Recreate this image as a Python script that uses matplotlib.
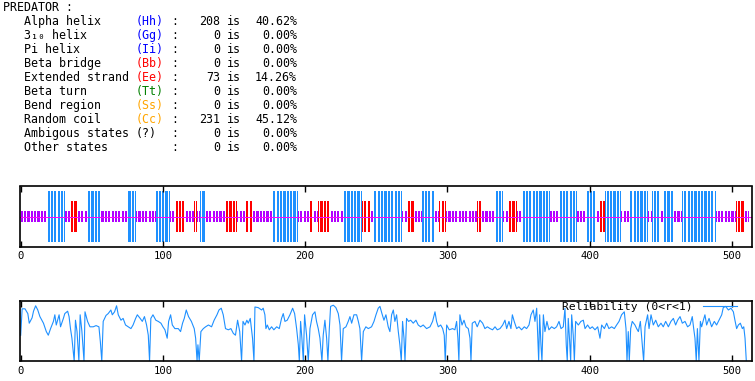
import numpy as np
import matplotlib
matplotlib.use('Agg')
from matplotlib import pyplot as plt

# summary table
ss_names = ['Alpha helix', '3\u2081\u2080 helix', 'Pi helix', 'Beta bridge', 'Extended strand',
            'Beta turn', 'Bend region', 'Random coil', 'Ambigous states', 'Other states']
ss_codes = ['(Hh)', '(Gg)', '(Ii)', '(Bb)', '(Ee)', '(Tt)', '(Ss)', '(Cc)', '(?)', '']
code_colors = ['#0000ff', '#0000ff', '#0000ff', '#ff0000', '#ff0000',
               '#008000', '#ffa500', '#ffa500', 'black', 'black']
ss_counts = [208, 0, 0, 0, 73, 0, 0, 231, 0, 0]
ss_percent = [40.62, 0.00, 0.00, 0.00, 14.26, 0.00, 0.00, 45.12, 0.00, 0.00]

# predicted structure, as runs along the sequence (H helix, E strand, C coil)
seg_states = list("CHCECHCHCH" "CECECHCECE" "CHCECECHEC" "HCECHCECEC"
                  "HCECHCHCHC" "EHCHCHCHCH" "CEC")
seg_lengths = [19, 12, 4, 5, 7, 9, 19, 6, 14, 10,
               3, 7, 7, 2, 2, 4, 14, 8, 6, 5,
               14, 18, 8, 3, 3, 8, 10, 13, 6, 2,
               20, 4, 5, 5, 9, 3, 5, 22, 3, 9,
               6, 4, 6, 3, 20, 7, 12, 6, 8, 2,
               4, 11, 6, 13, 3, 6, 2, 7, 6, 24,
               14, 6, 3]

# reliability curve
rel_pos = [
    0, 1, 3, 5, 6, 8, 9, 10.5, 12, 13.5,
    16, 18, 19.4, 21, 23, 24, 25, 27, 28, 30,
    31, 33, 34, 35, 36, 37.6, 38.5, 39.6, 40.9, 41.8,
    43, 44.5, 45.2, 47, 48.7, 51, 53, 55, 56, 57,
    58, 60, 61.5, 63.4, 64.4, 66, 67.4, 68.6, 70.5, 72,
    73.7, 75.6, 77.5, 79, 80.8, 82, 84, 85.5, 87, 88.5,
    89.7, 90.6, 91.5, 93, 95, 96.7, 98.6, 100, 101.4, 103,
    104, 105.4, 106.6, 108.4, 110.8, 112.4, 113.8, 115, 116.4, 118,
    120, 122, 123, 124, 124.6, 125.5, 126.7, 128.4, 130, 132,
    134.2, 136, 138, 139.4, 141, 142.4, 144, 146, 147.8, 149.5,
    151, 152.5, 154, 155.3, 156.3, 157.7, 159, 160, 161.4, 163,
    164, 164.7, 167, 169.4, 170.5, 171.7, 172.4, 173.4, 174.8, 176.4,
    178, 180, 181.8, 183.4, 184.6, 185.8, 187.4, 189.3, 191.2, 192.6,
    194, 195.2, 195.9, 196.8, 197.7, 198.7, 199.6, 201, 202.2, 203.4,
    205.2, 206.9, 208, 209.2, 210.4, 211.8, 212.7, 213.9, 215.1, 216,
    217, 217.9, 219.8, 221.6, 223.3, 224.5, 225.6, 226.8, 228.7, 230.3,
    231.5, 232.7, 234.3, 236.2, 237.4, 238.5, 239.7, 240.9, 242.7, 244.4,
    246.7, 248.4, 249.8, 251.4, 252.6, 254, 255.4, 256.8, 258.4, 259.6,
    260.8, 262, 263.1, 264.3, 265.5, 266.6, 267.6, 268.5, 269.5, 270.2,
    271.3, 272.7, 274.2, 276, 277.9, 279.5, 281.2, 283, 285.4, 287.8,
    289.6, 291.3, 292.4, 293.6, 295.3, 296.7, 297.8, 298.5, 299.5, 301.3,
    303.7, 305.3, 306.5, 307.4, 308.1, 308.8, 310.3, 311.7, 313.1, 314.7,
    315.9, 316.6, 317.5, 319.4, 321, 322.9, 324.8, 326.4, 328.1, 330,
    331.8, 333.5, 335.1, 337, 338.9, 340.5, 341.7, 343.3, 344.7, 345.7,
    347, 348.7, 350.3, 352.2, 354.1, 355.7, 357.4, 358.8, 360.4, 361.6,
    362.8, 363.5, 364.2, 364.9, 365.8, 366.5, 367.5, 368.6, 370, 371.4,
    373.3, 375.2, 376.8, 378.5, 379.9, 381.5, 382.7, 383.6, 384.3, 385,
    386, 386.7, 387.4, 388.5, 389.3, 390.2, 392.1, 393.9, 395.6, 396.8,
    398.6, 400.3, 401.9, 403.8, 405.7, 407.3, 408.5, 410.4, 412, 413.6,
    415.5, 417.4, 419, 420.7, 422.5, 424.4, 425.6, 426.3, 427.2, 427.9,
    428.9, 430, 431.9, 433.1, 434.3, 435.7, 437.1, 438, 439, 440.8,
    441.8, 443.2, 444.8, 446.5, 448.3, 450.2, 451.8, 453.5, 455.4, 457.2,
    458.9, 460.5, 461.9, 463.6, 465.2, 467.1, 468.9, 470.6, 472.2, 473.2,
    474.1, 475, 475.8, 476.9, 477.9, 478.8, 480, 481.1, 482.3, 484,
    485.8, 487.7, 489.3, 491, 492.9, 494, 495.7, 497.6, 499.4, 501.1,
    502.2, 503.4, 504.6, 506, 507.4, 508.4, 509.3, 510.2,
]
rel_val = [
    0.43, 0.87, 0.87, 0.79, 0.63, 0.72, 0.83, 0.92, 0.85, 0.74,
    0.63, 0.49, 0.43, 0.54, 0.66, 0.77, 0.60, 0.77, 0.57, 0.71,
    0.79, 0.83, 0.74, 0.54, 0.38, 0.00, 0.68, 0.49, 0.00, 0.77,
    0.50, 0.00, 0.82, 0.66, 0.57, 0.57, 0.59, 0.57, 0.32, 0.00,
    0.66, 0.76, 0.79, 0.85, 0.77, 0.82, 0.92, 0.77, 0.68, 0.71,
    0.60, 0.57, 0.54, 0.60, 0.71, 0.77, 0.71, 0.66, 0.74, 0.60,
    0.43, 0.00, 0.71, 0.77, 0.68, 0.66, 0.63, 0.57, 0.52, 0.38,
    0.66, 0.77, 0.60, 0.54, 0.54, 0.49, 0.63, 0.71, 0.85, 0.74,
    0.66, 0.54, 0.38, 0.00, 0.27, 0.00, 0.49, 0.54, 0.57, 0.60,
    0.57, 0.68, 0.77, 0.85, 0.88, 0.77, 0.54, 0.52, 0.54, 0.46,
    0.43, 0.68, 0.49, 0.00, 0.66, 0.60, 0.68, 0.63, 0.71, 0.38,
    0.00, 0.90, 0.89, 0.85, 0.88, 0.77, 0.54, 0.60, 0.52, 0.57,
    0.52, 0.57, 0.54, 0.71, 0.79, 0.66, 0.68, 0.77, 0.88, 0.79,
    0.54, 0.27, 0.00, 0.66, 0.38, 0.00, 0.77, 0.43, 0.00, 0.54,
    0.77, 0.82, 0.66, 0.54, 0.38, 0.00, 0.43, 0.68, 0.38, 0.00,
    0.54, 0.91, 0.93, 0.89, 0.79, 0.60, 0.00, 0.54, 0.57, 0.66,
    0.74, 0.63, 0.77, 0.77, 0.66, 0.54, 0.00, 0.49, 0.57, 0.54,
    0.57, 0.66, 0.77, 0.88, 0.91, 0.79, 0.68, 0.77, 0.57, 0.49,
    0.77, 0.85, 0.66, 0.77, 0.49, 0.27, 0.00, 0.66, 0.38, 0.00,
    0.71, 0.66, 0.68, 0.63, 0.68, 0.60, 0.57, 0.60, 0.54, 0.57,
    0.66, 0.82, 0.66, 0.57, 0.60, 0.54, 0.43, 0.00, 0.60, 0.52,
    0.54, 0.52, 0.66, 0.38, 0.00, 0.77, 0.60, 0.68, 0.57, 0.54,
    0.38, 0.00, 0.63, 0.66, 0.57, 0.68, 0.63, 0.54, 0.57, 0.54,
    0.52, 0.57, 0.52, 0.54, 0.60, 0.68, 0.54, 0.66, 0.54, 0.77,
    0.66, 0.54, 0.57, 0.52, 0.57, 0.54, 0.60, 0.77, 0.85, 0.66,
    0.88, 0.43, 0.00, 0.77, 0.27, 0.00, 0.77, 0.49, 0.66, 0.52,
    0.57, 0.54, 0.57, 0.66, 0.54, 0.57, 0.88, 0.27, 0.00, 0.71,
    0.32, 0.00, 0.77, 0.43, 0.00, 0.66, 0.60, 0.66, 0.68, 0.54,
    0.60, 0.54, 0.57, 0.52, 0.57, 0.38, 0.60, 0.54, 0.63, 0.54,
    0.57, 0.54, 0.60, 0.66, 0.77, 0.82, 0.54, 0.00, 0.49, 0.00,
    0.54, 0.66, 0.60, 0.54, 0.49, 0.66, 0.27, 0.00, 0.57, 0.77,
    0.54, 0.77, 0.60, 0.68, 0.57, 0.63, 0.57, 0.66, 0.57, 0.66,
    0.71, 0.60, 0.68, 0.74, 0.63, 0.66, 0.57, 0.60, 0.74, 0.54,
    0.38, 0.00, 0.54, 0.00, 0.66, 0.57, 0.68, 0.77, 0.60, 0.71,
    0.57, 0.66, 0.60, 0.68, 0.77, 0.89, 0.91, 0.85, 0.88, 0.82,
    0.68, 0.54, 0.60, 0.63, 0.54, 0.57, 0.38, 0.00,
]

ticks = [0, 100, 200, 300, 400, 500]

W, H = 755, 381
mono = ['DejaVu Sans Mono', 'DejaVu Sans']
fig = plt.figure(figsize=(W / 100, H / 100), dpi=100)


def fx(px):
    return px / W


def fy(py):
    return 1 - py / H


# ---- text block ----
cw = 7.0  # pixel width of one monospace char
fs = 8.4
fig.text(fx(3), fy(7.5), 'PREDATOR :', family=mono, fontsize=fs, va='center')
for i in range(len(ss_names)):
    y = fy(21.5 + 14 * i)
    fig.text(fx(3 + 3 * cw), y, ss_names[i], family=mono, fontsize=fs, va='center')
    fig.text(fx(3 + 19 * cw), y, ss_codes[i], family=mono, fontsize=fs, va='center',
             color=code_colors[i])
    fig.text(fx(3 + 24 * cw), y, ':', family=mono, fontsize=fs, va='center')
    fig.text(fx(3 + 31 * cw), y, str(ss_counts[i]), family=mono, fontsize=fs,
             va='center', ha='right')
    fig.text(fx(3 + 32 * cw), y, 'is', family=mono, fontsize=fs, va='center')
    fig.text(fx(3 + 42 * cw), y, '%.2f%%' % ss_percent[i], family=mono, fontsize=fs,
             va='center', ha='right')

# ---- structure track ----
states = np.repeat(seg_states, seg_lengths)
res = np.arange(len(states)) + 0.5
half = {'H': 0.85, 'E': 0.52, 'C': 0.18}
cols = {'H': '#1e90ff', 'E': '#ff0000', 'C': '#b000ff'}

ax1 = fig.add_axes([fx(20), fy(246.5), 732 / W, 60 / H])
for s in ['C', 'E', 'H']:
    m = states == s
    ax1.bar(res[m], 2 * half[s], bottom=-half[s], width=0.65, color=cols[s],
            linewidth=0)
ax1.axhline(0, color='#ff00ff', lw=0.7)
ax1.set_ylim(-1, 1)
ax1.set_yticks([])

# ---- reliability ----
ax2 = fig.add_axes([fx(20), fy(361), 732 / W, 60 / H])
ax2.plot(rel_pos, rel_val, color='#1e90ff', lw=0.8, label='Reliability (0<r<1)')
ax2.set_ylim(0, 1)
ax2.set_yticks([])
ax2.legend(loc='upper right', bbox_to_anchor=(0.98, 0.98), frameon=False,
           markerfirst=False, prop={'family': 'DejaVu Sans Mono', 'size': 8.2},
           handlelength=3.0, handletextpad=0.9, borderpad=0, borderaxespad=0)

for ax in (ax1, ax2):
    ax.set_xlim(-0.5, 514.2)
    ax.set_xticks(ticks)
    ax.tick_params(axis='x', direction='in', top=True, bottom=True, length=4,
                   width=1, pad=3.5, labelsize=7.6, color='black')
    for lab in ax.get_xticklabels():
        lab.set_family('DejaVu Sans Mono')
    for sp in ax.spines.values():
        sp.set_linewidth(1.2)

fig.savefig('out.png', dpi=100)
